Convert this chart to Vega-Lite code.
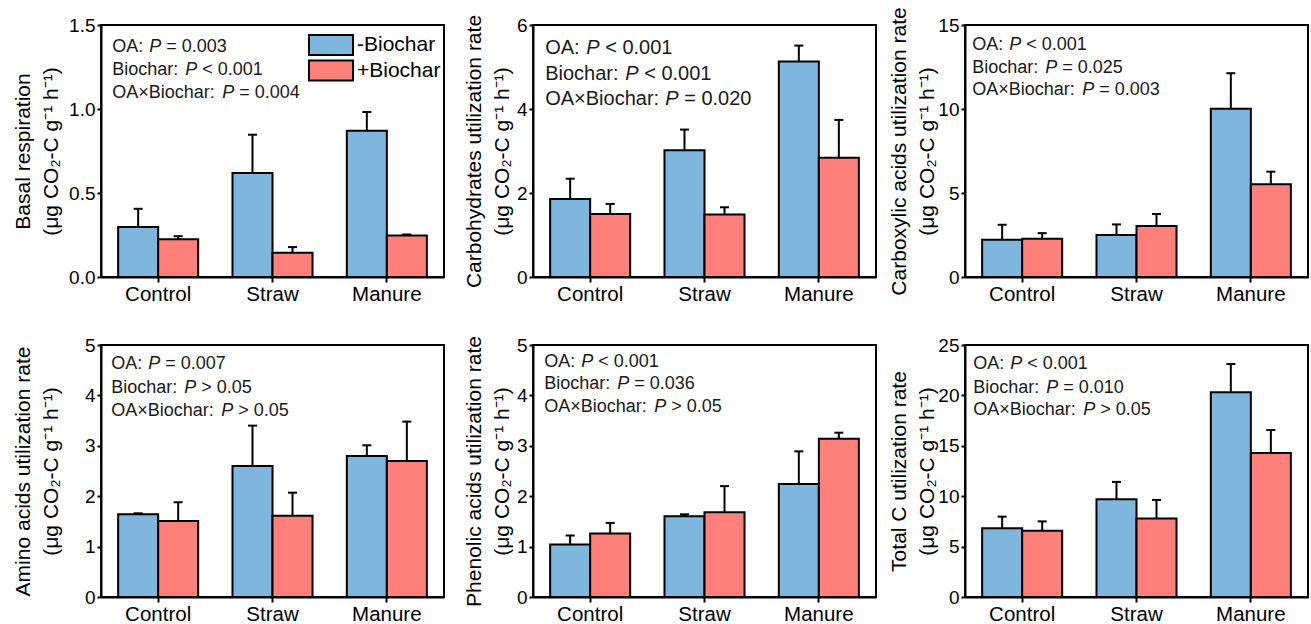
{
"$schema":"https://vega.github.io/schema/vega-lite/v6.json",
"background":"white",
"padding":{"left":10,"top":5,"right":4,"bottom":2},
"datasets":{
"bars":[
{"panel":"p1","OA":"Control","Biochar":"-Biochar","mean":0.297,"upper":0.406},
{"panel":"p1","OA":"Control","Biochar":"+Biochar","mean":0.224,"upper":0.243},
{"panel":"p1","OA":"Straw","Biochar":"-Biochar","mean":0.619,"upper":0.847},
{"panel":"p1","OA":"Straw","Biochar":"+Biochar","mean":0.144,"upper":0.178},
{"panel":"p1","OA":"Manure","Biochar":"-Biochar","mean":0.871,"upper":0.982},
{"panel":"p1","OA":"Manure","Biochar":"+Biochar","mean":0.247,"upper":0.253},
{"panel":"p2","OA":"Control","Biochar":"-Biochar","mean":1.86,"upper":2.34},
{"panel":"p2","OA":"Control","Biochar":"+Biochar","mean":1.50,"upper":1.74},
{"panel":"p2","OA":"Straw","Biochar":"-Biochar","mean":3.02,"upper":3.51},
{"panel":"p2","OA":"Straw","Biochar":"+Biochar","mean":1.49,"upper":1.66},
{"panel":"p2","OA":"Manure","Biochar":"-Biochar","mean":5.13,"upper":5.51},
{"panel":"p2","OA":"Manure","Biochar":"+Biochar","mean":2.84,"upper":3.74},
{"panel":"p3","OA":"Control","Biochar":"-Biochar","mean":2.22,"upper":3.11},
{"panel":"p3","OA":"Control","Biochar":"+Biochar","mean":2.28,"upper":2.61},
{"panel":"p3","OA":"Straw","Biochar":"-Biochar","mean":2.50,"upper":3.13},
{"panel":"p3","OA":"Straw","Biochar":"+Biochar","mean":3.03,"upper":3.75},
{"panel":"p3","OA":"Manure","Biochar":"-Biochar","mean":10.01,"upper":12.13},
{"panel":"p3","OA":"Manure","Biochar":"+Biochar","mean":5.52,"upper":6.27},
{"panel":"p4","OA":"Control","Biochar":"-Biochar","mean":1.64,"upper":1.66},
{"panel":"p4","OA":"Control","Biochar":"+Biochar","mean":1.51,"upper":1.88},
{"panel":"p4","OA":"Straw","Biochar":"-Biochar","mean":2.60,"upper":3.40},
{"panel":"p4","OA":"Straw","Biochar":"+Biochar","mean":1.61,"upper":2.07},
{"panel":"p4","OA":"Manure","Biochar":"-Biochar","mean":2.80,"upper":3.01},
{"panel":"p4","OA":"Manure","Biochar":"+Biochar","mean":2.70,"upper":3.48},
{"panel":"p5","OA":"Control","Biochar":"-Biochar","mean":1.04,"upper":1.22},
{"panel":"p5","OA":"Control","Biochar":"+Biochar","mean":1.26,"upper":1.47},
{"panel":"p5","OA":"Straw","Biochar":"-Biochar","mean":1.60,"upper":1.64},
{"panel":"p5","OA":"Straw","Biochar":"+Biochar","mean":1.68,"upper":2.20},
{"panel":"p5","OA":"Manure","Biochar":"-Biochar","mean":2.24,"upper":2.89},
{"panel":"p5","OA":"Manure","Biochar":"+Biochar","mean":3.14,"upper":3.26},
{"panel":"p6","OA":"Control","Biochar":"-Biochar","mean":6.81,"upper":7.97},
{"panel":"p6","OA":"Control","Biochar":"+Biochar","mean":6.57,"upper":7.50},
{"panel":"p6","OA":"Straw","Biochar":"-Biochar","mean":9.69,"upper":11.42},
{"panel":"p6","OA":"Straw","Biochar":"+Biochar","mean":7.80,"upper":9.63},
{"panel":"p6","OA":"Manure","Biochar":"-Biochar","mean":20.32,"upper":23.11},
{"panel":"p6","OA":"Manure","Biochar":"+Biochar","mean":14.28,"upper":16.57}
],
"notes":[
{"panel":"p1","line":1,"prefix":"OA:","stat":"= 0.003"},
{"panel":"p1","line":2,"prefix":"Biochar:","stat":"< 0.001"},
{"panel":"p1","line":3,"prefix":"OA×Biochar:","stat":"= 0.004"},
{"panel":"p2","line":1,"prefix":"OA:","stat":"< 0.001"},
{"panel":"p2","line":2,"prefix":"Biochar:","stat":"< 0.001"},
{"panel":"p2","line":3,"prefix":"OA×Biochar:","stat":"= 0.020"},
{"panel":"p3","line":1,"prefix":"OA:","stat":"< 0.001"},
{"panel":"p3","line":2,"prefix":"Biochar:","stat":"= 0.025"},
{"panel":"p3","line":3,"prefix":"OA×Biochar:","stat":"= 0.003"},
{"panel":"p4","line":1,"prefix":"OA:","stat":"= 0.007"},
{"panel":"p4","line":2,"prefix":"Biochar:","stat":"> 0.05"},
{"panel":"p4","line":3,"prefix":"OA×Biochar:","stat":"> 0.05"},
{"panel":"p5","line":1,"prefix":"OA:","stat":"< 0.001"},
{"panel":"p5","line":2,"prefix":"Biochar:","stat":"= 0.036"},
{"panel":"p5","line":3,"prefix":"OA×Biochar:","stat":"> 0.05"},
{"panel":"p6","line":1,"prefix":"OA:","stat":"< 0.001"},
{"panel":"p6","line":2,"prefix":"Biochar:","stat":"= 0.010"},
{"panel":"p6","line":3,"prefix":"OA×Biochar:","stat":"> 0.05"}
]
},
"columns":3,
"spacing":{"row":68,"column":89},
"bounds":"flush",
"resolve":{"legend":{"color":"independent"}},
"concat":[
{"width":343,"height":252,"layer":[
 {"data":{"name":"bars"},"transform":[{"filter":"datum.panel==='p1'"}],"layer":[
  {"mark":{"type":"bar","stroke":"black","strokeWidth":2},"encoding":{
   "x":{"field":"OA","type":"nominal","scale":{"domain":["Control","Straw","Manure"],"paddingInner":0.3,"paddingOuter":0.15},"axis":{"title":null}},
   "xOffset":{"field":"Biochar","type":"nominal","scale":{"domain":["-Biochar","+Biochar"]}},
   "y":{"field":"mean","type":"quantitative","scale":{"domain":[0,1.5],"nice":false},"axis":{"title":["Basal respiration","(μg CO₂-C g⁻¹ h⁻¹)"],"values":[0,0.5,1,1.5],"format":".1f","minExtent":34,"maxExtent":34,"titlePadding":6}},
   "color":{"field":"Biochar","type":"nominal","scale":{"domain":["-Biochar","+Biochar"],"range":["#7FB6DD","#FF807B"]},"legend":{"orient":"none","legendX":219,"legendY":9,"title":null,"labelFontSize":21,"labelOffset":15,"symbolType":"M-2.2,-1H2.2V1H-2.2Z","symbolSize":400,"symbolStrokeColor":"black","symbolStrokeWidth":2,"symbolOpacity":1,"rowPadding":-2.5}}
  }},
  {"mark":{"type":"rule","color":"black","strokeWidth":2},"encoding":{"x":{"field":"OA","type":"nominal"},"xOffset":{"field":"Biochar","type":"nominal"},"y":{"field":"mean","type":"quantitative"},"y2":{"field":"upper"}}},
  {"mark":{"type":"tick","color":"black","thickness":2,"size":9,"opacity":1},"encoding":{"x":{"field":"OA","type":"nominal"},"xOffset":{"field":"Biochar","type":"nominal"},"y":{"field":"upper","type":"quantitative"}}}
 ]},
 {"data":{"name":"notes"},"transform":[{"filter":"datum.panel==='p1' && datum.line===1"}],"encoding":{"x":{"datum":"Control","bandPosition":0},"y":{"datum":1.341}},"layer":[
  {"mark":{"type":"text","dx":-6},"encoding":{"text":{"field":"prefix"}}},
  {"mark":{"type":"text","dx":31,"fontStyle":"italic"},"encoding":{"text":{"value":"P"}}},
  {"mark":{"type":"text","dx":48},"encoding":{"text":{"field":"stat"}}}]},
 {"data":{"name":"notes"},"transform":[{"filter":"datum.panel==='p1' && datum.line===2"}],"encoding":{"x":{"datum":"Control","bandPosition":0},"y":{"datum":1.202}},"layer":[
  {"mark":{"type":"text","dx":-6},"encoding":{"text":{"field":"prefix"}}},
  {"mark":{"type":"text","dx":67,"fontStyle":"italic"},"encoding":{"text":{"value":"P"}}},
  {"mark":{"type":"text","dx":84},"encoding":{"text":{"field":"stat"}}}]},
 {"data":{"name":"notes"},"transform":[{"filter":"datum.panel==='p1' && datum.line===3"}],"encoding":{"x":{"datum":"Control","bandPosition":0},"y":{"datum":1.064}},"layer":[
  {"mark":{"type":"text","dx":-6},"encoding":{"text":{"field":"prefix"}}},
  {"mark":{"type":"text","dx":104,"fontStyle":"italic"},"encoding":{"text":{"value":"P"}}},
  {"mark":{"type":"text","dx":121},"encoding":{"text":{"field":"stat"}}}]}
]},
{"width":343,"height":252,"layer":[
 {"data":{"name":"bars"},"transform":[{"filter":"datum.panel==='p2'"}],"layer":[
  {"mark":{"type":"bar","stroke":"black","strokeWidth":2},"encoding":{
   "x":{"field":"OA","type":"nominal","scale":{"domain":["Control","Straw","Manure"],"paddingInner":0.3,"paddingOuter":0.15},"axis":{"title":null}},
   "xOffset":{"field":"Biochar","type":"nominal","scale":{"domain":["-Biochar","+Biochar"]}},
   "y":{"field":"mean","type":"quantitative","scale":{"domain":[0,6],"nice":false},"axis":{"title":["Carbohydrates utilization rate","(μg CO₂-C g⁻¹ h⁻¹)"],"values":[0,2,4,6],"format":"d","minExtent":17,"maxExtent":17,"titlePadding":4}},
   "color":{"field":"Biochar","type":"nominal","scale":{"domain":["-Biochar","+Biochar"],"range":["#7FB6DD","#FF807B"]},"legend":null}
  }},
  {"mark":{"type":"rule","color":"black","strokeWidth":2},"encoding":{"x":{"field":"OA","type":"nominal"},"xOffset":{"field":"Biochar","type":"nominal"},"y":{"field":"mean","type":"quantitative"},"y2":{"field":"upper"}}},
  {"mark":{"type":"tick","color":"black","thickness":2,"size":9,"opacity":1},"encoding":{"x":{"field":"OA","type":"nominal"},"xOffset":{"field":"Biochar","type":"nominal"},"y":{"field":"upper","type":"quantitative"}}}
 ]},
 {"data":{"name":"notes"},"transform":[{"filter":"datum.panel==='p2' && datum.line===1"}],"encoding":{"x":{"datum":"Control","bandPosition":0},"y":{"datum":5.302}},"layer":[
  {"mark":{"type":"text","dx":-5,"fontSize":20},"encoding":{"text":{"field":"prefix"}}},
  {"mark":{"type":"text","dx":36,"fontSize":20,"fontStyle":"italic"},"encoding":{"text":{"value":"P"}}},
  {"mark":{"type":"text","dx":55,"fontSize":20},"encoding":{"text":{"field":"stat"}}}]},
 {"data":{"name":"notes"},"transform":[{"filter":"datum.panel==='p2' && datum.line===2"}],"encoding":{"x":{"datum":"Control","bandPosition":0},"y":{"datum":4.69}},"layer":[
  {"mark":{"type":"text","dx":-5,"fontSize":20},"encoding":{"text":{"field":"prefix"}}},
  {"mark":{"type":"text","dx":75,"fontSize":20,"fontStyle":"italic"},"encoding":{"text":{"value":"P"}}},
  {"mark":{"type":"text","dx":94,"fontSize":20},"encoding":{"text":{"field":"stat"}}}]},
 {"data":{"name":"notes"},"transform":[{"filter":"datum.panel==='p2' && datum.line===3"}],"encoding":{"x":{"datum":"Control","bandPosition":0},"y":{"datum":4.095}},"layer":[
  {"mark":{"type":"text","dx":-5,"fontSize":20},"encoding":{"text":{"field":"prefix"}}},
  {"mark":{"type":"text","dx":115,"fontSize":20,"fontStyle":"italic"},"encoding":{"text":{"value":"P"}}},
  {"mark":{"type":"text","dx":134,"fontSize":20},"encoding":{"text":{"field":"stat"}}}]}
]},
{"width":343,"height":252,"layer":[
 {"data":{"name":"bars"},"transform":[{"filter":"datum.panel==='p3'"}],"layer":[
  {"mark":{"type":"bar","stroke":"black","strokeWidth":2},"encoding":{
   "x":{"field":"OA","type":"nominal","scale":{"domain":["Control","Straw","Manure"],"paddingInner":0.3,"paddingOuter":0.15},"axis":{"title":null}},
   "xOffset":{"field":"Biochar","type":"nominal","scale":{"domain":["-Biochar","+Biochar"]}},
   "y":{"field":"mean","type":"quantitative","scale":{"domain":[0,15],"nice":false},"axis":{"title":["Carboxylic acids utilization rate","(μg CO₂-C g⁻¹ h⁻¹)"],"values":[0,5,10,15],"format":"d","minExtent":28,"maxExtent":28,"titlePadding":0}},
   "color":{"field":"Biochar","type":"nominal","scale":{"domain":["-Biochar","+Biochar"],"range":["#7FB6DD","#FF807B"]},"legend":null}
  }},
  {"mark":{"type":"rule","color":"black","strokeWidth":2},"encoding":{"x":{"field":"OA","type":"nominal"},"xOffset":{"field":"Biochar","type":"nominal"},"y":{"field":"mean","type":"quantitative"},"y2":{"field":"upper"}}},
  {"mark":{"type":"tick","color":"black","thickness":2,"size":9,"opacity":1},"encoding":{"x":{"field":"OA","type":"nominal"},"xOffset":{"field":"Biochar","type":"nominal"},"y":{"field":"upper","type":"quantitative"}}}
 ]},
 {"data":{"name":"notes"},"transform":[{"filter":"datum.panel==='p3' && datum.line===1"}],"encoding":{"x":{"datum":"Control","bandPosition":0},"y":{"datum":13.51}},"layer":[
  {"mark":{"type":"text","dx":-10},"encoding":{"text":{"field":"prefix"}}},
  {"mark":{"type":"text","dx":27,"fontStyle":"italic"},"encoding":{"text":{"value":"P"}}},
  {"mark":{"type":"text","dx":44},"encoding":{"text":{"field":"stat"}}}]},
 {"data":{"name":"notes"},"transform":[{"filter":"datum.panel==='p3' && datum.line===2"}],"encoding":{"x":{"datum":"Control","bandPosition":0},"y":{"datum":12.17}},"layer":[
  {"mark":{"type":"text","dx":-10},"encoding":{"text":{"field":"prefix"}}},
  {"mark":{"type":"text","dx":63,"fontStyle":"italic"},"encoding":{"text":{"value":"P"}}},
  {"mark":{"type":"text","dx":80},"encoding":{"text":{"field":"stat"}}}]},
 {"data":{"name":"notes"},"transform":[{"filter":"datum.panel==='p3' && datum.line===3"}],"encoding":{"x":{"datum":"Control","bandPosition":0},"y":{"datum":10.83}},"layer":[
  {"mark":{"type":"text","dx":-10},"encoding":{"text":{"field":"prefix"}}},
  {"mark":{"type":"text","dx":100,"fontStyle":"italic"},"encoding":{"text":{"value":"P"}}},
  {"mark":{"type":"text","dx":117},"encoding":{"text":{"field":"stat"}}}]}
]},
{"width":343,"height":252,"layer":[
 {"data":{"name":"bars"},"transform":[{"filter":"datum.panel==='p4'"}],"layer":[
  {"mark":{"type":"bar","stroke":"black","strokeWidth":2},"encoding":{
   "x":{"field":"OA","type":"nominal","scale":{"domain":["Control","Straw","Manure"],"paddingInner":0.3,"paddingOuter":0.15},"axis":{"title":null}},
   "xOffset":{"field":"Biochar","type":"nominal","scale":{"domain":["-Biochar","+Biochar"]}},
   "y":{"field":"mean","type":"quantitative","scale":{"domain":[0,5],"nice":false},"axis":{"title":["Amino acids utilization rate","(μg CO₂-C g⁻¹ h⁻¹)"],"values":[0,1,2,3,4,5],"format":"d","minExtent":34,"maxExtent":34,"titlePadding":6}},
   "color":{"field":"Biochar","type":"nominal","scale":{"domain":["-Biochar","+Biochar"],"range":["#7FB6DD","#FF807B"]},"legend":null}
  }},
  {"mark":{"type":"rule","color":"black","strokeWidth":2},"encoding":{"x":{"field":"OA","type":"nominal"},"xOffset":{"field":"Biochar","type":"nominal"},"y":{"field":"mean","type":"quantitative"},"y2":{"field":"upper"}}},
  {"mark":{"type":"tick","color":"black","thickness":2,"size":9,"opacity":1},"encoding":{"x":{"field":"OA","type":"nominal"},"xOffset":{"field":"Biochar","type":"nominal"},"y":{"field":"upper","type":"quantitative"}}}
 ]},
 {"data":{"name":"notes"},"transform":[{"filter":"datum.panel==='p4' && datum.line===1"}],"encoding":{"x":{"datum":"Control","bandPosition":0},"y":{"datum":4.518}},"layer":[
  {"mark":{"type":"text","dx":-7},"encoding":{"text":{"field":"prefix"}}},
  {"mark":{"type":"text","dx":30,"fontStyle":"italic"},"encoding":{"text":{"value":"P"}}},
  {"mark":{"type":"text","dx":47},"encoding":{"text":{"field":"stat"}}}]},
 {"data":{"name":"notes"},"transform":[{"filter":"datum.panel==='p4' && datum.line===2"}],"encoding":{"x":{"datum":"Control","bandPosition":0},"y":{"datum":4.054}},"layer":[
  {"mark":{"type":"text","dx":-7},"encoding":{"text":{"field":"prefix"}}},
  {"mark":{"type":"text","dx":66,"fontStyle":"italic"},"encoding":{"text":{"value":"P"}}},
  {"mark":{"type":"text","dx":83},"encoding":{"text":{"field":"stat"}}}]},
 {"data":{"name":"notes"},"transform":[{"filter":"datum.panel==='p4' && datum.line===3"}],"encoding":{"x":{"datum":"Control","bandPosition":0},"y":{"datum":3.597}},"layer":[
  {"mark":{"type":"text","dx":-7},"encoding":{"text":{"field":"prefix"}}},
  {"mark":{"type":"text","dx":103,"fontStyle":"italic"},"encoding":{"text":{"value":"P"}}},
  {"mark":{"type":"text","dx":120},"encoding":{"text":{"field":"stat"}}}]}
]},
{"width":343,"height":252,"layer":[
 {"data":{"name":"bars"},"transform":[{"filter":"datum.panel==='p5'"}],"layer":[
  {"mark":{"type":"bar","stroke":"black","strokeWidth":2},"encoding":{
   "x":{"field":"OA","type":"nominal","scale":{"domain":["Control","Straw","Manure"],"paddingInner":0.3,"paddingOuter":0.15},"axis":{"title":null}},
   "xOffset":{"field":"Biochar","type":"nominal","scale":{"domain":["-Biochar","+Biochar"]}},
   "y":{"field":"mean","type":"quantitative","scale":{"domain":[0,5],"nice":false},"axis":{"title":["Phenolic acids utilization rate","(μg CO₂-C g⁻¹ h⁻¹)"],"values":[0,1,2,3,4,5],"format":"d","minExtent":17,"maxExtent":17,"titlePadding":4}},
   "color":{"field":"Biochar","type":"nominal","scale":{"domain":["-Biochar","+Biochar"],"range":["#7FB6DD","#FF807B"]},"legend":null}
  }},
  {"mark":{"type":"rule","color":"black","strokeWidth":2},"encoding":{"x":{"field":"OA","type":"nominal"},"xOffset":{"field":"Biochar","type":"nominal"},"y":{"field":"mean","type":"quantitative"},"y2":{"field":"upper"}}},
  {"mark":{"type":"tick","color":"black","thickness":2,"size":9,"opacity":1},"encoding":{"x":{"field":"OA","type":"nominal"},"xOffset":{"field":"Biochar","type":"nominal"},"y":{"field":"upper","type":"quantitative"}}}
 ]},
 {"data":{"name":"notes"},"transform":[{"filter":"datum.panel==='p5' && datum.line===1"}],"encoding":{"x":{"datum":"Control","bandPosition":0},"y":{"datum":4.569}},"layer":[
  {"mark":{"type":"text","dx":-6},"encoding":{"text":{"field":"prefix"}}},
  {"mark":{"type":"text","dx":31,"fontStyle":"italic"},"encoding":{"text":{"value":"P"}}},
  {"mark":{"type":"text","dx":48},"encoding":{"text":{"field":"stat"}}}]},
 {"data":{"name":"notes"},"transform":[{"filter":"datum.panel==='p5' && datum.line===2"}],"encoding":{"x":{"datum":"Control","bandPosition":0},"y":{"datum":4.121}},"layer":[
  {"mark":{"type":"text","dx":-6},"encoding":{"text":{"field":"prefix"}}},
  {"mark":{"type":"text","dx":67,"fontStyle":"italic"},"encoding":{"text":{"value":"P"}}},
  {"mark":{"type":"text","dx":84},"encoding":{"text":{"field":"stat"}}}]},
 {"data":{"name":"notes"},"transform":[{"filter":"datum.panel==='p5' && datum.line===3"}],"encoding":{"x":{"datum":"Control","bandPosition":0},"y":{"datum":3.665}},"layer":[
  {"mark":{"type":"text","dx":-6},"encoding":{"text":{"field":"prefix"}}},
  {"mark":{"type":"text","dx":104,"fontStyle":"italic"},"encoding":{"text":{"value":"P"}}},
  {"mark":{"type":"text","dx":121},"encoding":{"text":{"field":"stat"}}}]}
]},
{"width":343,"height":252,"layer":[
 {"data":{"name":"bars"},"transform":[{"filter":"datum.panel==='p6'"}],"layer":[
  {"mark":{"type":"bar","stroke":"black","strokeWidth":2},"encoding":{
   "x":{"field":"OA","type":"nominal","scale":{"domain":["Control","Straw","Manure"],"paddingInner":0.3,"paddingOuter":0.15},"axis":{"title":null}},
   "xOffset":{"field":"Biochar","type":"nominal","scale":{"domain":["-Biochar","+Biochar"]}},
   "y":{"field":"mean","type":"quantitative","scale":{"domain":[0,25],"nice":false},"axis":{"title":["Total C utilization rate","(μg CO₂-C g⁻¹ h⁻¹)"],"values":[0,5,10,15,20,25],"format":"d","minExtent":28,"maxExtent":28,"titlePadding":0}},
   "color":{"field":"Biochar","type":"nominal","scale":{"domain":["-Biochar","+Biochar"],"range":["#7FB6DD","#FF807B"]},"legend":null}
  }},
  {"mark":{"type":"rule","color":"black","strokeWidth":2},"encoding":{"x":{"field":"OA","type":"nominal"},"xOffset":{"field":"Biochar","type":"nominal"},"y":{"field":"mean","type":"quantitative"},"y2":{"field":"upper"}}},
  {"mark":{"type":"tick","color":"black","thickness":2,"size":9,"opacity":1},"encoding":{"x":{"field":"OA","type":"nominal"},"xOffset":{"field":"Biochar","type":"nominal"},"y":{"field":"upper","type":"quantitative"}}}
 ]},
 {"data":{"name":"notes"},"transform":[{"filter":"datum.panel==='p6' && datum.line===1"}],"encoding":{"x":{"datum":"Control","bandPosition":0},"y":{"datum":22.59}},"layer":[
  {"mark":{"type":"text","dx":-9},"encoding":{"text":{"field":"prefix"}}},
  {"mark":{"type":"text","dx":28,"fontStyle":"italic"},"encoding":{"text":{"value":"P"}}},
  {"mark":{"type":"text","dx":45},"encoding":{"text":{"field":"stat"}}}]},
 {"data":{"name":"notes"},"transform":[{"filter":"datum.panel==='p6' && datum.line===2"}],"encoding":{"x":{"datum":"Control","bandPosition":0},"y":{"datum":20.27}},"layer":[
  {"mark":{"type":"text","dx":-9},"encoding":{"text":{"field":"prefix"}}},
  {"mark":{"type":"text","dx":64,"fontStyle":"italic"},"encoding":{"text":{"value":"P"}}},
  {"mark":{"type":"text","dx":81},"encoding":{"text":{"field":"stat"}}}]},
 {"data":{"name":"notes"},"transform":[{"filter":"datum.panel==='p6' && datum.line===3"}],"encoding":{"x":{"datum":"Control","bandPosition":0},"y":{"datum":18.06}},"layer":[
  {"mark":{"type":"text","dx":-9},"encoding":{"text":{"field":"prefix"}}},
  {"mark":{"type":"text","dx":101,"fontStyle":"italic"},"encoding":{"text":{"value":"P"}}},
  {"mark":{"type":"text","dx":118},"encoding":{"text":{"field":"stat"}}}]}
]}
],
"config":{
 "font":"Liberation Sans",
 "view":{"stroke":"black","strokeWidth":2},
 "text":{"align":"left","baseline":"alphabetic","font":"Liberation Sans","fontSize":18,"color":"#1a1a1a"},
 "axis":{"domainColor":"black","domainWidth":2,"tickColor":"black","tickWidth":2,"tickSize":4,"labelColor":"black","titleColor":"black","grid":false,"labelFont":"Liberation Sans","titleFont":"Liberation Sans","titleFontWeight":"normal","titleFontSize":21,"titleLineHeight":28},
 "axisX":{"labelFontSize":20.5,"labelPadding":2,"labelAngle":0,"tickSize":5},
 "axisY":{"labelFontSize":19,"labelPadding":2},
 "legend":{"labelFont":"Liberation Sans","labelColor":"black"}
}
}
